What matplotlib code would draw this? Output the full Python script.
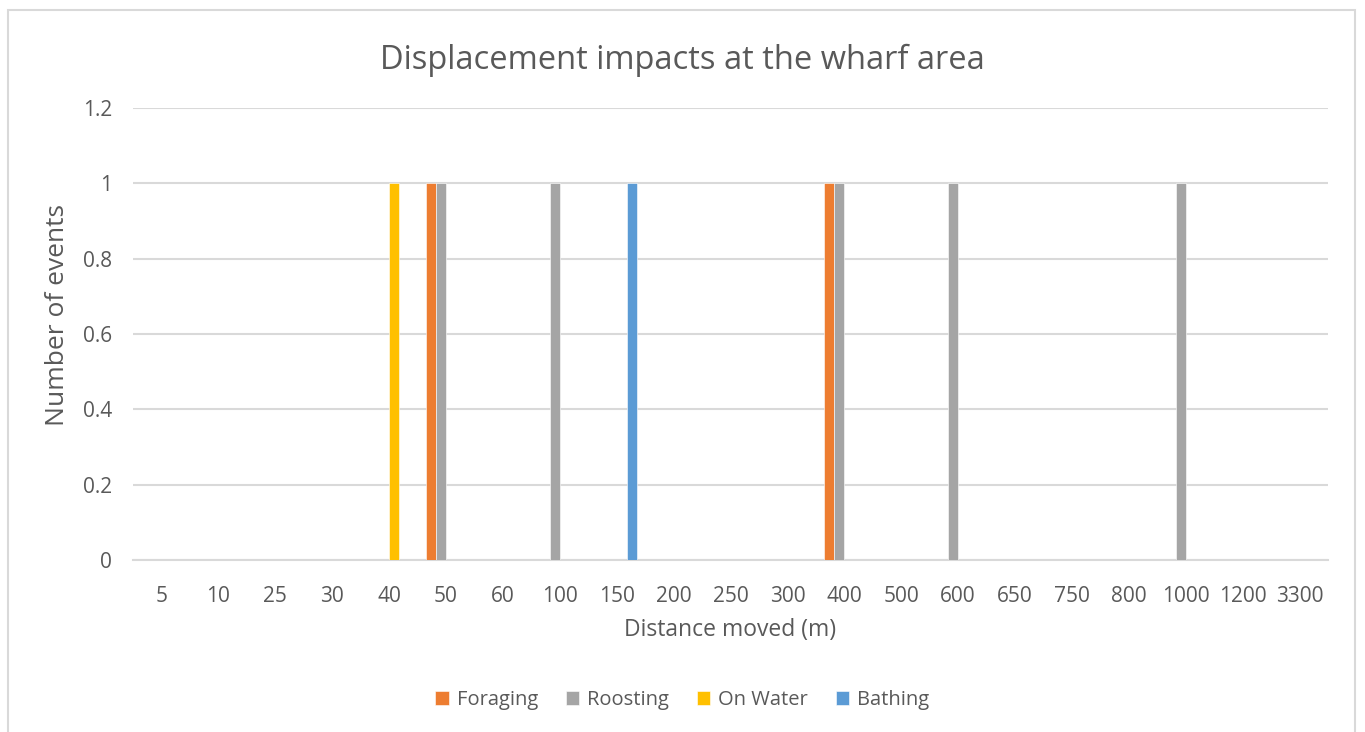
import matplotlib
matplotlib.use("Agg")
import matplotlib.pyplot as plt
from matplotlib.patches import Rectangle
import numpy as np

plt.rcParams['font.family'] = ['Open Sans', 'DejaVu Sans']

categories = ["5", "10", "25", "30", "40", "50", "60", "100", "150", "200", "250",
              "300", "400", "500", "600", "650", "750", "800", "1000", "1200", "3300"]
series_names = ["Foraging", "Roosting", "On Water", "Bathing"]
foraging = [0, 0, 0, 0, 0, 1, 0, 0, 0, 0, 0, 0, 1, 0, 0, 0, 0, 0, 0, 0, 0]
roosting = [0, 0, 0, 0, 0, 1, 0, 1, 0, 0, 0, 0, 1, 0, 1, 0, 0, 0, 1, 0, 0]
on_water = [0, 0, 0, 0, 1, 0, 0, 0, 0, 0, 0, 0, 0, 0, 0, 0, 0, 0, 0, 0, 0]
bathing = [0, 0, 0, 0, 0, 0, 0, 0, 1, 0, 0, 0, 0, 0, 0, 0, 0, 0, 0, 0, 0]
colors = ["#ED7D31", "#A5A5A5", "#FFC000", "#5B9BD5"]
yticks = [0, 0.2, 0.4, 0.6, 0.8, 1, 1.2]
ytick_labels = ["0", "0.2", "0.4", "0.6", "0.8", "1", "1.2"]

text_color = "#595959"
grid_color = "#D9D9D9"

fig = plt.figure(figsize=(13.65, 7.32), dpi=100)
ax = fig.add_axes([133 / 1365, 1 - 560 / 732, 1195 / 1365, 452 / 732])

x = np.arange(len(categories))
w = 0.176
all_series = [foraging, roosting, on_water, bathing]
for i, (vals, name, c) in enumerate(zip(all_series, series_names, colors)):
    ax.bar(x + (i - 1.5) * w, vals, width=w, color=c, label=name,
           edgecolor="white", linewidth=0.4, zorder=3)

ax.set_xlim(-0.5, len(categories) - 0.5)
ax.set_ylim(0, 1.2)
ax.set_yticks(yticks)
ax.set_yticklabels(ytick_labels)
ax.set_xticks(x)
ax.set_xticklabels(categories)
ax.tick_params(axis="both", length=0, labelsize=15, colors=text_color)
ax.tick_params(axis="x", pad=19)
ax.tick_params(axis="y", pad=15)
ax.grid(axis="y", color=grid_color, linewidth=1.5, zorder=0)
for s in ["top", "right", "left"]:
    ax.spines[s].set_visible(False)
ax.spines["bottom"].set_color(grid_color)
ax.spines["bottom"].set_linewidth(1.5)

ax.set_xlabel("Distance moved (m)", fontsize=16.5, color=text_color, va="center")
ax.xaxis.set_label_coords(0.5, (560 - 630) / 452)
ax.set_ylabel("Number of events", fontsize=19, color=text_color, va="center")
ax.yaxis.set_label_coords((58 - 133) / 1195, (560 - 315) / 452)

fig.text(0.5, 1 - 60 / 732, "Displacement impacts at the wharf area",
         ha="center", va="center", fontsize=23.5, color=text_color)

leg = fig.legend(loc="center", bbox_to_anchor=(0.5, 1 - 700 / 732), ncol=4,
                 frameon=False, fontsize=14.5, handlelength=0.65, handleheight=0.65,
                 handletextpad=0.4, columnspacing=1.4, labelcolor=text_color)

fig.patches.append(Rectangle((8 / 1365, -0.01), 1347 / 1365, 1 - 10 / 732 + 0.01,
                             transform=fig.transFigure, fill=False,
                             edgecolor="#D9D9D9", linewidth=1.5))

fig.savefig("out.png", dpi=100, facecolor="white")
